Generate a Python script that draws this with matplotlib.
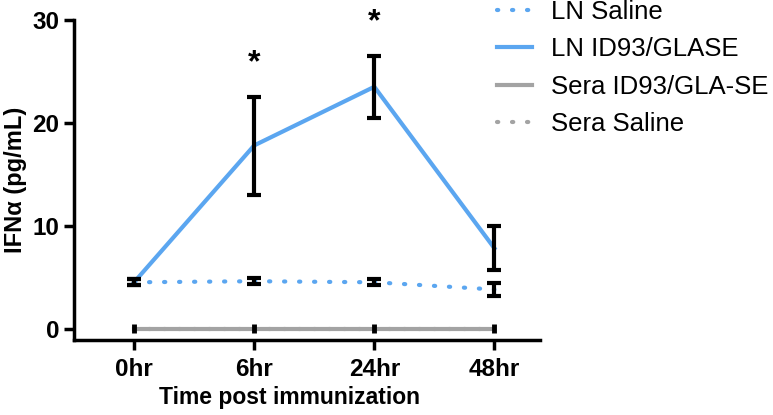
import matplotlib
matplotlib.use('Agg')
import matplotlib.pyplot as plt

times = ["0hr", "6hr", "24hr", "48hr"]
ln_saline = [4.5, 4.6, 4.5, 3.8]
ln_saline_err = [0.3, 0.3, 0.3, 0.65]
ln_id93 = [4.5, 17.8, 23.5, 7.8]
ln_id93_lo = [0.3, 4.8, 3.0, 2.1]
ln_id93_hi = [0.3, 4.7, 3.0, 2.2]
sera_id93 = [0, 0, 0, 0]
sera_id93_err = [0.4, 0.4, 0.4, 0.4]
sera_saline = [0, 0, 0, 0]
stars = {1: 25.8, 2: 29.8}

plt.rcParams['font.family'] = ['Liberation Sans', 'DejaVu Sans']

fig = plt.figure(figsize=(7.73, 4.15), dpi=100)
ax = fig.add_axes([0.0957, 0.181, 0.603, 0.771])
x = list(range(len(times)))

blue = '#5ba6f0'
gray = '#a3a3a3'
dots = (0, (0.3, 3.3))

ax.plot(x, ln_saline, color=blue, lw=3, ls=dots, dash_capstyle='round',
        label='LN Saline', zorder=2)
ax.plot(x, ln_id93, color=blue, lw=3, label='LN ID93/GLASE', zorder=2)
ax.plot(x, sera_id93, color=gray, lw=3, label='Sera ID93/GLA-SE', zorder=2)
ax.plot(x, sera_saline, color=gray, lw=3, ls=dots, dash_capstyle='round',
        label='Sera Saline', zorder=1)

ax.errorbar(x, ln_saline, yerr=ln_saline_err, fmt='none', ecolor='black',
            elinewidth=3, capsize=5, capthick=3, zorder=3)
ax.errorbar(x, ln_id93, yerr=[ln_id93_lo, ln_id93_hi], fmt='none', ecolor='black',
            elinewidth=3, capsize=5, capthick=3, zorder=3)
ax.errorbar(x, sera_id93, yerr=sera_id93_err, fmt='none', ecolor='black',
            elinewidth=3.5, capsize=0, zorder=3)

for i, v in stars.items():
    ax.text(i, v, '*', ha='center', va='center', fontsize=23, fontweight='bold',
            clip_on=False)

ax.set_xlim(-0.5, 3.38)
ax.set_ylim(-1.1, 30)
ax.set_xticks(x)
ax.set_xticklabels(times)
ax.set_yticks([0, 10, 20, 30])
for s in ['top', 'right']:
    ax.spines[s].set_visible(False)
for s in ['left', 'bottom']:
    ax.spines[s].set_linewidth(2.5)
ax.tick_params(width=2.5, length=7, labelsize=17.5)
ax.tick_params(axis='x', pad=6)
for lab in ax.get_xticklabels() + ax.get_yticklabels():
    lab.set_fontweight('bold')

ax.set_xlabel('Time post immunization', fontsize=16.5, fontweight='bold')
ax.xaxis.set_label_coords(0.463, -0.145)
ax.set_ylabel('IFN\u03b1 (pg/mL)', fontsize=17, fontweight='bold')

handles, labels = ax.get_legend_handles_labels()
fig.legend(handles, labels, loc='upper left', bbox_to_anchor=(497 / 773, 1.0),
           frameon=False, fontsize=18.5, handlelength=1.36, handletextpad=0.75,
           labelspacing=0.52, borderpad=0, borderaxespad=0)

fig.savefig('out.png', dpi=100)
